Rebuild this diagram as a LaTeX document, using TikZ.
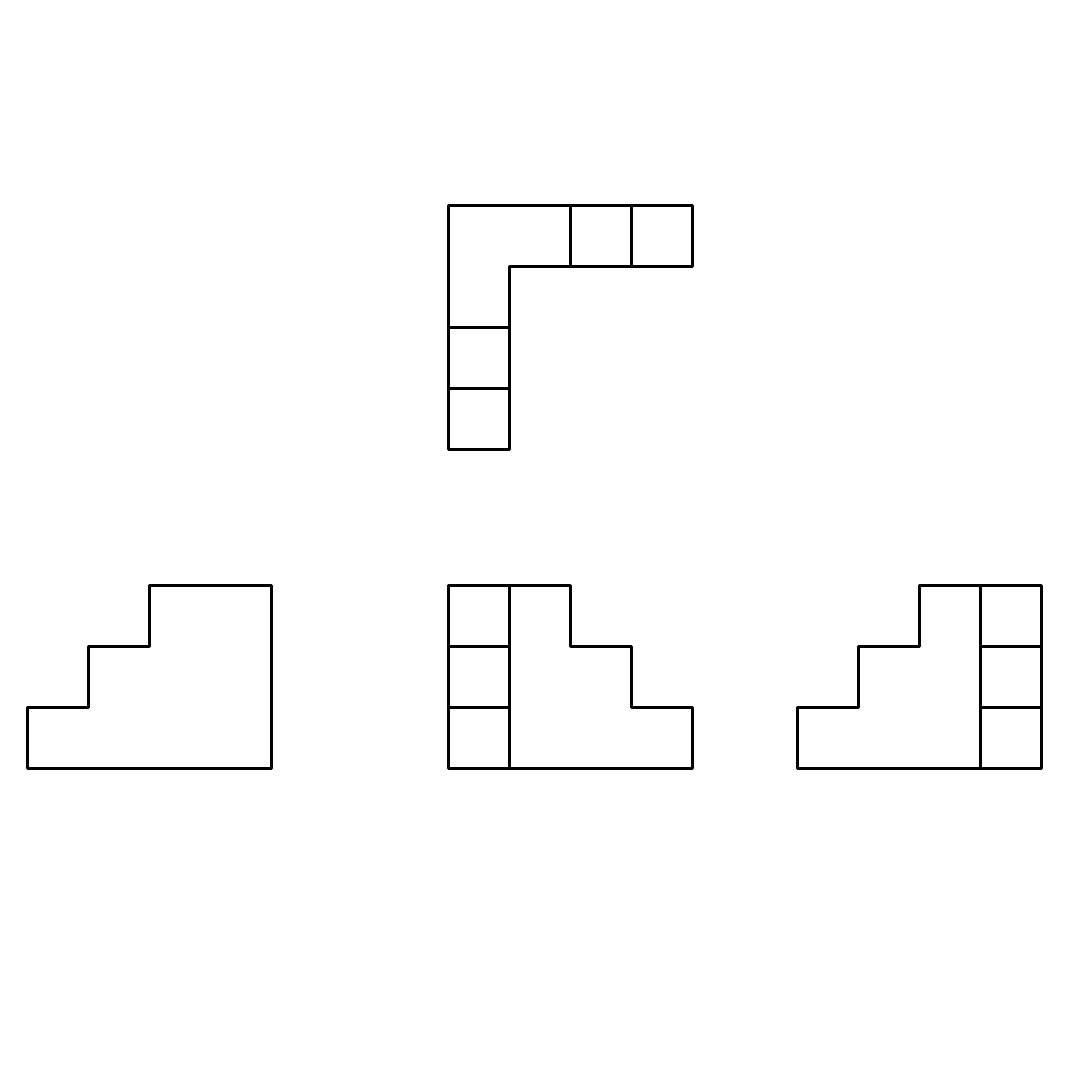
\documentclass[tikz,border=0pt]{standalone}
\begin{document}
\begin{tikzpicture}[x=1pt,y=-1pt,line width=2.2pt,line cap=round,line join=round,
  edge/.style={draw=black}]
\useasboundingbox[fill=white] (0,0) rectangle (1080,1080);
% top L
\draw[edge] (448.5,205.5) -- (692.5,205.5) -- (692.5,266.5) -- (509.5,266.5) -- (509.5,449.5) -- (448.5,449.5) -- cycle;
\draw[edge] (570.5,205.5) -- (570.5,266.5);
\draw[edge] (631.5,205.5) -- (631.5,266.5);
\draw[edge] (448.5,327.5) -- (509.5,327.5);
\draw[edge] (448.5,388.5) -- (509.5,388.5);
% left
\draw[edge] (27.5,768.5) -- (27.5,707.5) -- (88.5,707.5) -- (88.5,646.5) -- (149.5,646.5) -- (149.5,585.5) -- (271.5,585.5) -- (271.5,768.5) -- cycle;
% middle
\draw[edge] (448.5,585.5) -- (570.5,585.5) -- (570.5,646.5) -- (631.5,646.5) -- (631.5,707.5) -- (692.5,707.5) -- (692.5,768.5) -- (448.5,768.5) -- cycle;
\draw[edge] (509.5,585.5) -- (509.5,768.5);
\draw[edge] (448.5,646.5) -- (509.5,646.5);
\draw[edge] (448.5,707.5) -- (509.5,707.5);
% right
\draw[edge] (797.5,768.5) -- (797.5,707.5) -- (858.5,707.5) -- (858.5,646.5) -- (919.5,646.5) -- (919.5,585.5) -- (1041.5,585.5) -- (1041.5,768.5) -- cycle;
\draw[edge] (980.5,585.5) -- (980.5,768.5);
\draw[edge] (980.5,646.5) -- (1041.5,646.5);
\draw[edge] (980.5,707.5) -- (1041.5,707.5);
\end{tikzpicture}
\end{document}
